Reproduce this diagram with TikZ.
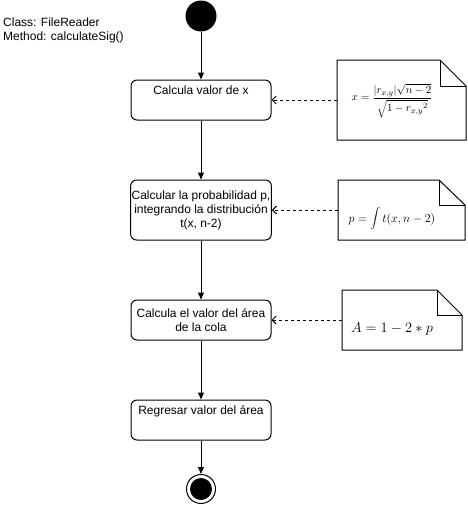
\documentclass[tikz,border=0pt]{standalone}
\usepackage{fontspec}
\setmainfont{Liberation Sans}
\usetikzlibrary{arrows.meta}
\tikzset{
  stepbox/.style={draw, line width=1pt, rounded corners=6pt, minimum width=140pt, align=center, inner sep=1pt, font=\fontsize{12}{14}\selectfont},
  flow/.style={draw, line width=1pt, -{Triangle[length=7pt,width=6pt]}},
  dep/.style={draw, line width=1pt, dashed, dash pattern=on 3pt off 3pt, -{Straight Barb[length=4pt,width=8pt]}},
  notebox/.style={draw, line width=1pt, line join=miter},
  formula/.style={inner sep=0pt, font=\fontsize{14}{16}\selectfont}
}
\begin{document}
\begin{tikzpicture}[x=1pt,y=-1pt]
\useasboundingbox (0,0) rectangle (467,506);
% title
\node[anchor=north west, align=left, inner sep=0pt, font=\fontsize{12}{14}\selectfont] (title) at (3,18) {Class: FileReader\\Method: calculateSig()};
% start / end
\node[circle, fill=black, minimum size=31pt, inner sep=0pt] (start) at (201,16) {};
\node[circle, draw, line width=1pt, minimum size=29pt, inner sep=0pt] (stop) at (201,489) {};
\node[circle, fill=black, minimum size=22pt, inner sep=0pt] (stopin) at (201,489) {};
% steps
\node[stepbox, minimum height=40pt] (b1) at (201,100) {Calcula valor de x\\[1pt]\strut};
\node[stepbox, minimum height=60pt] (b2) at (201,210) {Calcular la probabilidad p,\\integrando la distribución\\t(x, n-2)};
\node[stepbox, minimum height=40pt] (b3) at (201,320) {Calcula el valor del área\\de la cola};
\node[stepbox, minimum height=40pt] (b4) at (201,420) {Regresar valor del área\\[1pt]\strut};
% flow
\draw[flow] (start) -- (b1);
\draw[flow] (b1) -- (b2);
\draw[flow] (b2) -- (b3);
\draw[flow] (b3) -- (b4);
\draw[flow] (b4) -- (stop);
% notes
\draw[notebox] (337,60) -- (440,60) -- (466,86) -- (466,140) -- (337,140) -- cycle;
\draw[notebox] (440,60) -- (440,86) -- (466,86);
\coordinate (n1) at (337,100);
\node[formula, font=\fontsize{11}{13}\selectfont] (f1) at (392,101) {$\displaystyle x=\frac{\left|r_{x,y}\right|\!\sqrt{n-2}}{\sqrt{1-r_{x,y}{}^{2}}}$};
\draw[notebox] (338,180) -- (439,180) -- (465,205) -- (465,240) -- (338,240) -- cycle;
\draw[notebox] (439,180) -- (439,205) -- (465,205);
\coordinate (n2) at (338,210);
\node[formula, font=\fontsize{12.5}{15}\selectfont] (f2) at (392,219) {$p=\displaystyle\int t(x,n-2)$};
\draw[notebox] (342,290) -- (437,290) -- (462,315) -- (462,350) -- (342,350) -- cycle;
\draw[notebox] (437,290) -- (437,315) -- (462,315);
\coordinate (n3) at (342,320);
\node[formula] (f3) at (392,329) {$A=1-2*p$};
% dependencies
\draw[dep] (n1) -- (b1.east);
\draw[dep] (n2) -- (b2.east);
\draw[dep] (n3) -- (b3.east);
\end{tikzpicture}
\end{document}
